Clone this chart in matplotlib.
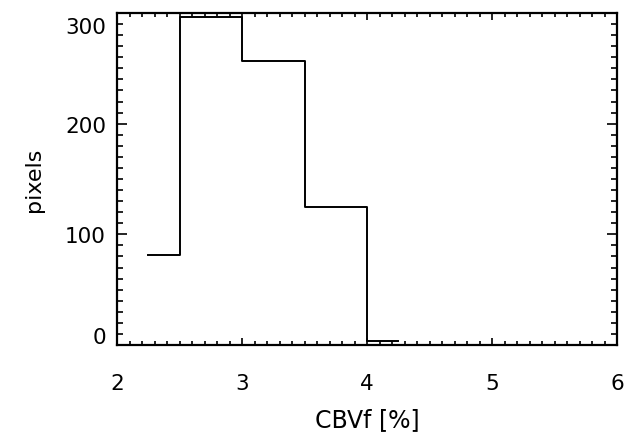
import matplotlib
matplotlib.use("Agg")
import matplotlib.pyplot as plt
from matplotlib.ticker import MultipleLocator, FixedLocator
from matplotlib.transforms import ScaledTranslation

# Histogram data (bin centres in CBVf %, pixel counts), IDL psym=10 style
cbvf = [2.25, 2.75, 3.25, 3.75, 4.25]
pixels = [81, 296, 257, 125, 4]

x_ticks = [2, 3, 4, 5, 6]
y_ticks = [0, 100, 200, 300]

plt.rcParams['font.family'] = ['DejaVu Sans']

fig = plt.figure(figsize=(6.25, 4.39), dpi=100)
ax = fig.add_axes([117/625, 1 - 346/439, 500/625, 332/439])

ax.plot(cbvf, pixels, drawstyle='steps-mid', color='black', lw=1.4)

ax.set_xlim(2, 6)
ax.set_ylim(0, 300)
ax.xaxis.set_major_locator(FixedLocator(x_ticks))
ax.xaxis.set_minor_locator(MultipleLocator(0.1))
ax.yaxis.set_major_locator(FixedLocator(y_ticks))
ax.yaxis.set_minor_locator(MultipleLocator(10))

for s in ax.spines.values():
    s.set_linewidth(1.6)

ax.tick_params(axis='both', which='both', direction='in', top=True, right=True,
               width=1.2, colors='black', labelsize=15.5)
ax.tick_params(axis='x', which='major', length=5, pad=20)
ax.tick_params(axis='x', which='minor', length=2.7)
ax.tick_params(axis='y', which='major', length=7.5, pad=8)
ax.tick_params(axis='y', which='minor', length=4.3)

ax.set_xlabel('CBVf [%]', fontsize=17, labelpad=10)
ax.set_ylabel('pixels', fontsize=16, labelpad=15)

# shift end labels inward like IDL
ticks = ax.yaxis.get_major_ticks()
for t, v in zip(ticks, y_ticks):
    if v == 300:
        t.label1.set_transform(t.label1.get_transform() + ScaledTranslation(0, -12/100, fig.dpi_scale_trans))
    if v == 0:
        t.label1.set_transform(t.label1.get_transform() + ScaledTranslation(0, 10/100, fig.dpi_scale_trans))

fig.savefig('out.png', dpi=100)
